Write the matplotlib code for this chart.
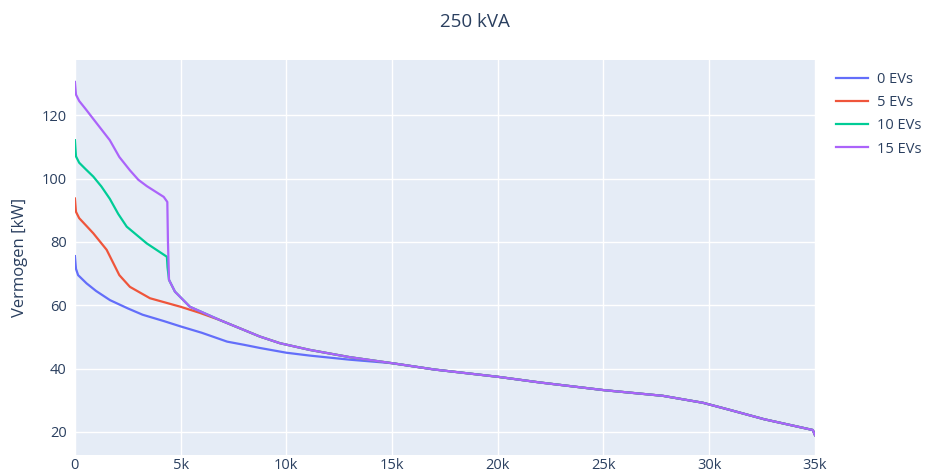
import matplotlib
matplotlib.use('Agg')
import matplotlib.pyplot as plt
from matplotlib.ticker import FuncFormatter

plt.rcParams['font.family'] = ['Open Sans', 'DejaVu Sans']

# load duration curves, x in hours, y in kW
x_0ev = [0, 50, 150, 550, 1000, 1660, 2500, 3200, 4200, 5000, 6000, 7200, 8000, 8750,
         10000, 11100, 13000, 15000, 17000, 20000, 22000, 25000, 27800, 29700, 31000,
         32600, 34900, 35000]
y_0ev = [75.5, 71.5, 69.5, 66.9, 64.5, 61.6, 59.0, 57.0, 55.0, 53.3, 51.3, 48.5, 47.5, 46.5,
         45.0, 44.1, 42.8, 41.7, 39.7, 37.4, 35.6, 33.2, 31.4, 29.2, 26.9,
         24.0, 20.6, 19.0]

x_5ev = [0, 50, 200, 550, 870, 1500, 2100, 2600, 3550, 5000, 5900, 6860, 8750, 9700,
         11100, 13000, 15000, 17000, 20000, 22000, 25000, 27800, 29700, 31000, 32600,
         34900, 35000]
y_5ev = [93.7, 89.5, 87.5, 85.0, 82.7, 77.5, 69.5, 65.8, 62.2, 59.5, 57.6, 55.3, 50.1, 48.0,
         45.9, 43.6, 41.7, 39.7, 37.4, 35.6, 33.2, 31.4, 29.2, 26.9, 24.0,
         20.6, 19.0]

x_10ev = [0, 50, 200, 500, 870, 1250, 1650, 2050, 2450, 3400, 4350, 4380, 4450, 4730, 5440,
          6860, 8750, 9700, 11100, 13000, 15000, 17000, 20000, 22000, 25000, 27800, 29700,
          31000, 32600, 34900, 35000]
y_10ev = [112.1, 107.0, 105.0, 103.0, 100.6, 97.5, 93.6, 88.8, 84.8, 79.5, 75.3, 72.0, 68.0, 64.3,
          59.5, 55.3, 50.1, 48.0, 45.9, 43.6, 41.7, 39.7, 37.4, 35.6, 33.2, 31.4, 29.2,
          26.9, 24.0, 20.6, 19.0]

x_15ev = [0, 50, 200, 500, 870, 1650, 2100, 2600, 3000, 3400, 4200, 4370, 4400, 4450, 4730, 5440,
          6860, 8750, 9700, 11100, 13000, 15000, 17000, 20000, 22000, 25000, 27800, 29700,
          31000, 32600, 34900, 35000]
y_15ev = [130.5, 126.5, 124.5, 122.0, 118.8, 112.1, 106.8, 102.6, 99.6, 97.6, 94.2, 92.6, 80.0, 68.0,
          64.3, 59.5, 55.3, 50.1, 48.0, 45.9, 43.6, 41.7, 39.7, 37.4, 35.6, 33.2, 31.4, 29.2,
          26.9, 24.0, 20.6, 19.0]

labels = ['0 EVs', '5 EVs', '10 EVs', '15 EVs']
colors = ['#636EFA', '#EF553B', '#00CC96', '#AB63FA']
txt = '#2a3f5f'

fig = plt.figure(figsize=(9.25, 4.73), dpi=100)
ax = fig.add_axes([0.081, 0.038, 0.8, 0.835])
ax.set_facecolor('#E5ECF6')

for xs, ys, lab, c in zip([x_0ev, x_5ev, x_10ev, x_15ev],
                          [y_0ev, y_5ev, y_10ev, y_15ev], labels, colors):
    ax.plot(xs, ys, color=c, lw=1.6, label=lab)

ax.set_xlim(0, 35000)
ax.set_ylim(12.7, 137.4)
ax.set_xticks(range(0, 35001, 5000))
ax.set_yticks(range(20, 121, 20))
ax.xaxis.set_major_formatter(FuncFormatter(lambda v, p: '0' if v == 0 else f'{int(v/1000)}k'))
ax.grid(color='white', lw=1)
ax.set_axisbelow(True)
for s in ax.spines.values():
    s.set_visible(False)
ax.tick_params(length=0, labelsize=10.5, labelcolor=txt)
ax.tick_params(axis='x', pad=2)
ax.tick_params(axis='y', pad=6)
ax.set_ylabel('Vermogen [kW]', fontsize=12, color=txt, labelpad=10)

fig.text(0.513, 0.953, '250 kVA', ha='center', va='center', fontsize=13.5, color=txt)

leg = fig.legend(loc='upper left', bbox_to_anchor=(0.901, 0.853), frameon=False,
                 fontsize=10.5, labelcolor=txt, handlelength=2.2, handletextpad=0.6,
                 labelspacing=0.55, borderaxespad=0, borderpad=0.2)

plt.savefig('out.png', dpi=100)
